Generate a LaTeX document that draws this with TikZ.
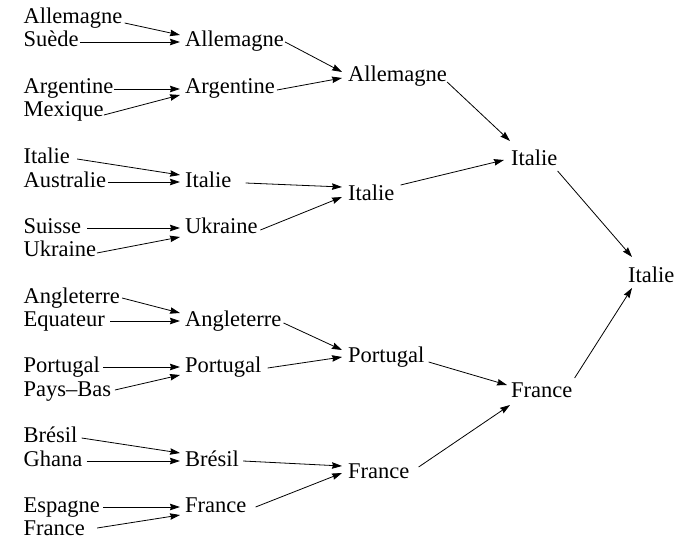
\documentclass[tikz,border=0pt]{standalone}
\usepackage{fontspec}
\setmainfont{Liberation Serif}
\usetikzlibrary{arrows.meta}
\newcommand\conn[6]{\draw[arr] ([shift={(#2pt,#3pt)}]#1.base east) -- ([shift={(#5pt,#6pt)}]#4.base west);}
\begin{document}
\begin{tikzpicture}[x=1pt,y=-1pt,
  lbl/.style={inner sep=0pt,anchor=base west,font=\fontsize{22.5}{27}\selectfont},
  arr/.style={line width=0.8pt,-{Stealth[length=10pt,width=6.5pt,inset=1pt]}}]
\useasboundingbox (0,0) rectangle (684,540);
% column 1
\node[lbl] (a1) at (23.5,24) {Allemagne};
\node[lbl] (a2) at (23.5,47) {Suède};
\node[lbl] (a3) at (23.5,94) {Argentine};
\node[lbl] (a4) at (23.5,117) {Mexique};
\node[lbl] (a5) at (23.5,164) {Italie};
\node[lbl] (a6) at (23.5,187) {Australie};
\node[lbl] (a7) at (23.5,233) {Suisse};
\node[lbl] (a8) at (23.5,256) {Ukraine};
\node[lbl] (a9) at (23.5,303) {Angleterre};
\node[lbl] (a10) at (23.5,326) {Equateur};
\node[lbl] (a11) at (23.5,372) {Portugal};
\node[lbl] (a12) at (23.5,396) {Pays–Bas};
\node[lbl] (a13) at (23.5,442) {Brésil};
\node[lbl] (a14) at (23.5,466) {Ghana};
\node[lbl] (a15) at (23.5,512) {Espagne};
\node[lbl] (a16) at (23.5,535) {France};
% column 2
\node[lbl] (b1) at (185,47) {Allemagne};
\node[lbl] (b2) at (185,94) {Argentine};
\node[lbl] (b3) at (185,187) {Italie};
\node[lbl] (b4) at (185,233) {Ukraine};
\node[lbl] (b5) at (185,326) {Angleterre};
\node[lbl] (b6) at (185,372) {Portugal};
\node[lbl] (b7) at (185,466) {Brésil};
\node[lbl] (b8) at (185,512) {France};
% column 3
\node[lbl] (c1) at (348,82) {Allemagne};
\node[lbl] (c2) at (348,200) {Italie};
\node[lbl] (c3) at (348,362) {Portugal};
\node[lbl] (c4) at (348,478) {France};
% column 4
\node[lbl] (d1) at (511,165) {Italie};
\node[lbl] (d2) at (511,397) {France};
% column 5
\node[lbl] (e1) at (628,282) {Italie};
% connectors col1 -> col2
\conn{a1}{2}{1}{b1}{-5}{12}
\conn{a2}{1}{5}{b1}{-5}{5}
\conn{a3}{1}{5}{b2}{-5}{5}
\conn{a4}{0}{2}{b2}{-5}{-1}
\conn{a5}{7}{5}{b3}{-5}{12}
\conn{a6}{1.5}{5}{b3}{-5}{5}
\conn{a7}{6}{5}{b4}{-5}{5}
\conn{a8}{0.5}{3}{b4}{-5}{-4}
\conn{a9}{2}{5}{b5}{-5}{13}
\conn{a10}{5}{5}{b5}{-5}{5}
\conn{a11}{3}{5}{b6}{-5}{5}
\conn{a12}{3.5}{6}{b6}{-5}{-3}
\conn{a13}{4}{4}{b7}{-5}{13}
\conn{a14}{4}{5}{b7}{-5}{5}
\conn{a15}{3}{5}{b8}{-5}{5}
\conn{a16}{12}{7}{b8}{-5}{-3}
% col2 -> col3
\conn{b1}{1}{5}{c1}{-6}{10}
\conn{b2}{2}{4}{c1}{-6}{4}
\conn{b3}{14}{4}{c2}{-6}{13}
\conn{b4}{2.5}{3}{c2}{-6}{3}
\conn{b5}{2}{3}{c3}{-6}{12}
\conn{b6}{6}{4}{c3}{-6}{5}
\conn{b7}{4}{5}{c4}{-6}{12}
\conn{b8}{9}{5}{c4}{-6}{5}
% col3 -> col4
\conn{c1}{0}{0}{d1}{-1}{24}
\conn{c2}{6}{15}{d1}{-7}{5}
\conn{c3}{4}{0}{d2}{-4}{12}
\conn{c4}{9}{11}{d2}{-1}{-8}
% col4 -> col5
\conn{d1}{0}{-6}{e1}{4}{25}
\conn{d2}{2}{19}{e1}{4}{-6}
\end{tikzpicture}
\end{document}
